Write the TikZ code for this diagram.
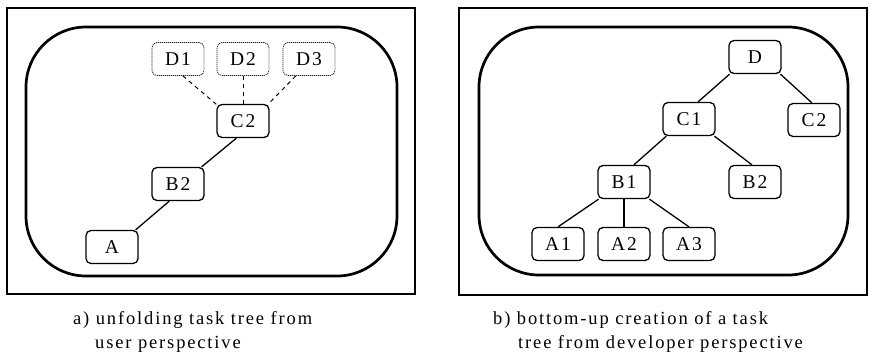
\documentclass[tikz,border=0pt]{standalone}
\usepackage{fontspec}
\setmainfont{Liberation Serif}
\newfontfamily\spacedserif{Liberation Serif}[LetterSpace=10]
\begin{document}
\begin{tikzpicture}[x=1pt,y=-1pt,
  task/.style={draw, rounded corners=5pt, line width=1.3pt,
    minimum width=52pt, minimum height=33pt, inner sep=0pt,
    font=\spacedserif\fontsize{19.5}{19.5}\selectfont},
  virtual/.style={task, line width=0.8pt, draw=black!85,
    dash pattern=on 1.2pt off 0.8pt},
  link/.style={line width=1.3pt},
  vlink/.style={line width=1pt, dash pattern=on 4pt off 4pt},
  frame/.style={line width=2pt},
  envelope/.style={line width=2.7pt, rounded corners=60pt},
  caption/.style={anchor=base west, inner sep=0pt,
    font=\spacedserif\fontsize{18.5}{18.5}\selectfont}]
\useasboundingbox (0,0) rectangle (870,354);

% ---- a) unfolding tree ----
\draw[frame] (7,8) rectangle (415,294);
\draw[envelope] (26,27) rectangle (397,276);

\node[virtual] (d1) at (178,59) {D1};
\node[virtual] (d2) at (243,59) {D2};
\node[virtual] (d3) at (309,59) {D3};
\node[task] (c2) at (243,121) {C2};
\node[task] (b2) at (178,184) {B2};
\node[task] (a)  at (112,247) {A};

\draw[vlink] (d1.286) -- (c2.148);
\draw[vlink] (d2.south) -- (c2.north);
\draw[vlink] (d3.232) -- (c2.34);
\draw[link] (c2.249) -- (b2.36);
\draw[link] (b2.243) -- (a.36);

\node[caption] (capa1) at (73,324) {a) unfolding task tree from};
\node[caption] (capa2) at (95,348) {user perspective};

% ---- b) bottom-up tree ----
\draw[frame] (459,8) rectangle (867,295);
\draw[envelope] (479,27) rectangle (848,275);

\node[task] (rd)  at (755,57)  {D};
\node[task] (rc1) at (689,119) {C1};
\node[task] (rc2) at (814,120) {C2};
\node[task] (rb1) at (624,182) {B1};
\node[task] (rb2) at (755,182) {B2};
\node[task] (ra1) at (558,244) {A1};
\node[task] (ra2) at (624,244) {A2};
\node[task] (ra3) at (689,244) {A3};

\draw[link] (rd.214) -- (rc1.62);
\draw[link] (rd.326) -- (rc2.97);
\draw[link] (rc1.217) -- (rb1.60);
\draw[link] (rc1.326) -- (rb2.100);
\draw[link] (rb1.214) -- (ra1.north);
\draw[link] (rb1.south) -- (ra2.north);
\draw[link] (rb1.326) -- (ra3.north);

\node[caption] (capb1) at (493,324) {b) bottom-up creation of a task};
\node[caption] (capb2) at (518,348) {tree from developer perspective};
\end{tikzpicture}
\end{document}
